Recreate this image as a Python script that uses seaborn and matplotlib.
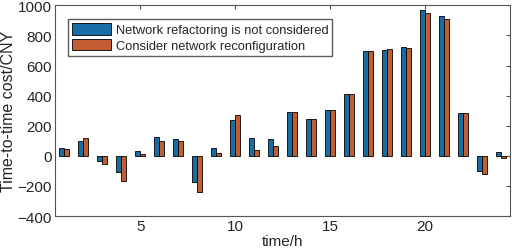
import numpy as np
import pandas as pd
import matplotlib
matplotlib.use('Agg')
import matplotlib.pyplot as plt
import seaborn as sns

hours = list(range(1, 25))
not_considered = [53, 96, -35, -107, 33, 127, 114, -175, 55, 237, 118, 110,
                  293, 245, 307, 414, 694, 705, 723, 970, 926, 287, -99, 24]
reconfigured = [46, 118, -53, -169, 15, 101, 96, -239, 20, 274, 39, 64,
                293, 245, 307, 414, 696, 707, 718, 950, 909, 287, -120, -11]
series_names = ['Network refactoring is not considered',
                'Consider network reconfiguration']

df = pd.DataFrame({
    'hour': hours * 2,
    'cost': not_considered + reconfigured,
    'case': [series_names[0]] * 24 + [series_names[1]] * 24,
})

sns.set_style('white')
plt.rcParams['font.family'] = ['Liberation Sans', 'DejaVu Sans']

fig, ax = plt.subplots(figsize=(5.12, 2.53), dpi=100)
fig.subplots_adjust(left=0.107, right=0.997, top=0.975, bottom=0.142)

sns.barplot(data=df, x='hour', y='cost', hue='case', native_scale=True,
            palette=['#0072BD', '#D95319'], width=0.55, edgecolor='black',
            linewidth=0.6, gap=0, ax=ax)

ax.set_xlim(0.5, 24.5)
ax.set_ylim(-400, 1000)
ax.set_xticks([5, 10, 15, 20])
ax.set_yticks(np.arange(-400, 1001, 200))
ax.tick_params(direction='in', length=3, top=True, right=True,
               labelsize=11, color='#555555', width=0.8, pad=2)
for sp in ax.spines.values():
    sp.set_color('#555555')
    sp.set_linewidth(0.8)
ax.set_xlabel('time/h', fontsize=11, labelpad=1)
ax.set_ylabel('Time-to-time cost/CNY', fontsize=11.5, labelpad=1)

ax.legend(loc='upper left', bbox_to_anchor=(0.015, 0.965), fontsize=9.3,
          frameon=True, fancybox=False, edgecolor='#333333',
          handlelength=3.0, handleheight=1.0, borderpad=0.3,
          labelspacing=0.2, handletextpad=0.4, title=None)

fig.savefig('out.png', dpi=100)
